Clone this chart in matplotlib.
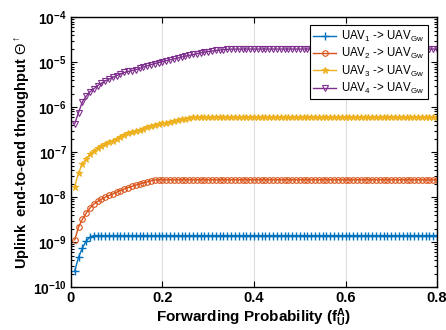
import numpy as np
import matplotlib
matplotlib.use('Agg')
import matplotlib.pyplot as plt

plt.rcParams['font.family'] = ['Liberation Sans', 'DejaVu Sans']
plt.rcParams['mathtext.fontset'] = 'custom'
plt.rcParams['mathtext.rm'] = 'Liberation Sans'
plt.rcParams['mathtext.it'] = 'Liberation Sans:italic'
plt.rcParams['mathtext.bf'] = 'Liberation Sans:bold'

# forwarding probability grid (96 samples, step 1/120)
f_ua = np.arange(1, 97) / 120.0

# UAV1 -> UAV_Gw
uav1 = [2.3e-10, 4.6e-10, 7.4e-10, 1.05e-9, 1.3e-9] + [1.4e-9] * 91

# UAV2 -> UAV_Gw
uav2 = [1.12e-9, 2.15e-9, 3.2e-9, 4.4e-9, 5.7e-9, 7.0e-9, 8.0e-9, 9.0e-9,
        1.0e-8, 1.09e-8, 1.18e-8, 1.29e-8, 1.4e-8, 1.52e-8, 1.63e-8, 1.74e-8,
        1.85e-8, 1.96e-8, 2.07e-8, 2.18e-8, 2.3e-8] + [2.42e-8] * 75

# UAV3 -> UAV_Gw
uav3 = [1.72e-8, 3.5e-8, 5.4e-8, 7.1e-8, 9.0e-8, 1.07e-7, 1.23e-7, 1.36e-7,
        1.51e-7, 1.67e-7, 1.81e-7, 2.0e-7, 2.22e-7, 2.46e-7, 2.6e-7, 2.75e-7,
        2.95e-7, 3.15e-7, 3.35e-7, 3.55e-7, 3.75e-7, 3.95e-7, 4.15e-7, 4.35e-7,
        4.55e-7, 4.75e-7, 4.95e-7, 5.15e-7, 5.35e-7, 5.55e-7, 5.75e-7] + [5.9e-7] * 65

# UAV4 -> UAV_Gw
uav4 = [4.3e-7, 7.6e-7, 1.3e-6, 1.75e-6, 2.2e-6, 2.55e-6, 3.0e-6, 3.4e-6,
        3.85e-6, 4.2e-6, 4.6e-6, 5.0e-6, 5.5e-6, 5.9e-6, 6.2e-6, 6.5e-6,
        6.8e-6, 7.3e-6, 7.8e-6, 8.3e-6, 8.8e-6, 9.3e-6, 9.8e-6, 1.03e-5,
        1.08e-5, 1.13e-5, 1.18e-5, 1.24e-5, 1.3e-5, 1.36e-5, 1.42e-5, 1.48e-5,
        1.54e-5, 1.6e-5, 1.66e-5, 1.72e-5, 1.77e-5, 1.82e-5, 1.86e-5, 1.9e-5,
        1.93e-5, 1.95e-5] + [1.96e-5] * 54

labels = [r'UAV$_1$ -> UAV$_{\mathrm{Gw}}$', r'UAV$_2$ -> UAV$_{\mathrm{Gw}}$',
          r'UAV$_3$ -> UAV$_{\mathrm{Gw}}$', r'UAV$_4$ -> UAV$_{\mathrm{Gw}}$']
x_ticks = [0, 0.2, 0.4, 0.6, 0.8]
y_ticks = [1e-10, 1e-9, 1e-8, 1e-7, 1e-6, 1e-5, 1e-4]

fig = plt.figure(figsize=(4.46, 3.30), dpi=100)
ax = fig.add_axes([0.159, 0.130, 0.821, 0.818])

ax.plot(f_ua, uav1, color='#0072BD', marker='+', ms=5.5, mew=1, lw=1, label=labels[0])
ax.plot(f_ua, uav2, color='#D95319', marker='o', ms=4, mfc='none', mew=0.8, lw=1, label=labels[1])
ax.plot(f_ua, uav3, color='#EDB120', marker='*', ms=5, mew=0.8, lw=1, label=labels[2])
ax.plot(f_ua, uav4, color='#7E2F8E', marker='v', ms=4.5, mfc='none', mew=0.8, lw=1, label=labels[3])

ax.set_yscale('log')
ax.set_xlim(0, 0.8)
ax.set_ylim(1e-10, 1e-4)
ax.set_xticks(x_ticks)
ax.set_xticklabels(['0', '0.2', '0.4', '0.6', '0.8'], fontweight='bold', fontsize=10.5)
ax.set_yticks(y_ticks)
ax.set_yticklabels([r'$\mathbf{10^{%d}}$' % int(np.log10(v)) for v in y_ticks], fontsize=10)
ax.tick_params(which='both', direction='in', top=True, right=True, width=0.8)
ax.tick_params(which='major', length=4, pad=3)
ax.tick_params(which='minor', length=2)
ax.grid(True, axis='x', color='#dddddd', lw=0.8)
for s in ax.spines.values():
    s.set_linewidth(1.0)

ax.set_xlabel(r'Forwarding Probability (f$_\mathbf{U}^\mathbf{A}$)', fontsize=11, fontweight='bold', labelpad=1)
ax.set_ylabel(r'Uplink  end-to-end throughput $\Theta^{\uparrow}$', fontsize=10.5, fontweight='bold', labelpad=1)

leg = ax.legend(loc='upper right', bbox_to_anchor=(0.975, 0.97), fontsize=8.3, fancybox=False,
                edgecolor='black', framealpha=1, handlelength=2.0, borderpad=0.3,
                labelspacing=0.2, handletextpad=0.4, borderaxespad=0)
leg.get_frame().set_linewidth(0.8)

fig.savefig('out.png', dpi=100)
